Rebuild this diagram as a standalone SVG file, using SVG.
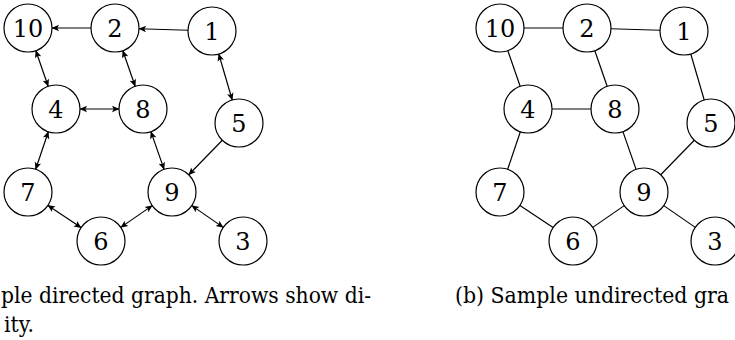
<svg xmlns="http://www.w3.org/2000/svg" width="735" height="340" viewBox="0 0 735 340">
<style>
.node circle{fill:#fff;stroke:#000;stroke-width:1.2}
.node text{font-family:'DejaVu Serif','Liberation Serif',serif;font-size:24px;text-anchor:middle;fill:#000}
.edge{stroke:#000;stroke-width:1.2;fill:none}
.one{marker-end:url(#ah)}
.two{marker-start:url(#ah);marker-end:url(#ah)}
.cap{font-family:'DejaVu Serif','Liberation Serif',serif;font-size:23px;fill:#000}
</style>
<defs>
<marker id="ah" viewBox="-8 -4 9 8" markerWidth="9" markerHeight="8" refX="0" refY="0" orient="auto-start-reverse" markerUnits="userSpaceOnUse">
<path d="M0.5,0 L-7,-3.3 L-5.3,0 L-7,3.3 Z" fill="#000"/>
</marker>
</defs>
<rect width="735" height="340" fill="#fff"/>

<g id="graph-a">
<g id="a-connectors">
<line class="edge one" x1="91" y1="28" x2="52" y2="28"/>
<line class="edge one" x1="188" y1="30.26" x2="139" y2="28.74"/>
<line class="edge two" x1="35.84" y1="50.68" x2="48.16" y2="86.32"/>
<line class="edge two" x1="122.84" y1="50.68" x2="135.16" y2="86.32"/>
<line class="edge two" x1="218.76" y1="54.03" x2="232.24" y2="99.97"/>
<line class="edge two" x1="80" y1="109" x2="119" y2="109"/>
<line class="edge two" x1="48.33" y1="131.74" x2="35.67" y2="169.26"/>
<line class="edge two" x1="150.92" y1="131.66" x2="164.08" y2="169.34"/>
<line class="edge one" x1="222.28" y1="140.22" x2="188.72" y2="174.78"/>
<line class="edge two" x1="47.93" y1="205.38" x2="81.07" y2="227.62"/>
<line class="edge two" x1="120.75" y1="227.37" x2="152.25" y2="205.63"/>
<line class="edge two" x1="191.75" y1="205.63" x2="223.25" y2="227.37"/>
</g>
<g id="a-n10" class="node"><circle cx="28" cy="28" r="24"/><text x="28" y="36.5">10</text></g>
<g id="a-n2" class="node"><circle cx="115" cy="28" r="24"/><text x="115" y="36.5">2</text></g>
<g id="a-n1" class="node"><circle cx="212" cy="31" r="24"/><text x="212" y="39.5">1</text></g>
<g id="a-n4" class="node"><circle cx="56" cy="109" r="24"/><text x="56" y="117.5">4</text></g>
<g id="a-n8" class="node"><circle cx="143" cy="109" r="24"/><text x="143" y="117.5">8</text></g>
<g id="a-n5" class="node"><circle cx="239" cy="123" r="24"/><text x="239" y="131.5">5</text></g>
<g id="a-n7" class="node"><circle cx="28" cy="192" r="24"/><text x="28" y="200.5">7</text></g>
<g id="a-n9" class="node"><circle cx="172" cy="192" r="24"/><text x="172" y="200.5">9</text></g>
<g id="a-n6" class="node"><circle cx="101" cy="241" r="24"/><text x="101" y="249.5">6</text></g>
<g id="a-n3" class="node"><circle cx="243" cy="241" r="24"/><text x="243" y="249.5">3</text></g>
</g>

<g id="graph-b" transform="translate(472,0)">
<g id="b-connectors">
<line class="edge" x1="91" y1="28" x2="52" y2="28"/>
<line class="edge" x1="188" y1="30.26" x2="139" y2="28.74"/>
<line class="edge" x1="35.84" y1="50.68" x2="48.16" y2="86.32"/>
<line class="edge" x1="122.84" y1="50.68" x2="135.16" y2="86.32"/>
<line class="edge" x1="218.76" y1="54.03" x2="232.24" y2="99.97"/>
<line class="edge" x1="80" y1="109" x2="119" y2="109"/>
<line class="edge" x1="48.33" y1="131.74" x2="35.67" y2="169.26"/>
<line class="edge" x1="150.92" y1="131.66" x2="164.08" y2="169.34"/>
<line class="edge" x1="222.28" y1="140.22" x2="188.72" y2="174.78"/>
<line class="edge" x1="47.93" y1="205.38" x2="81.07" y2="227.62"/>
<line class="edge" x1="120.75" y1="227.37" x2="152.25" y2="205.63"/>
<line class="edge" x1="191.75" y1="205.63" x2="223.25" y2="227.37"/>
</g>
<g id="b-n10" class="node"><circle cx="28" cy="28" r="24"/><text x="28" y="36.5">10</text></g>
<g id="b-n2" class="node"><circle cx="115" cy="28" r="24"/><text x="115" y="36.5">2</text></g>
<g id="b-n1" class="node"><circle cx="212" cy="31" r="24"/><text x="212" y="39.5">1</text></g>
<g id="b-n4" class="node"><circle cx="56" cy="109" r="24"/><text x="56" y="117.5">4</text></g>
<g id="b-n8" class="node"><circle cx="143" cy="109" r="24"/><text x="143" y="117.5">8</text></g>
<g id="b-n5" class="node"><circle cx="239" cy="123" r="24"/><text x="239" y="131.5">5</text></g>
<g id="b-n7" class="node"><circle cx="28" cy="192" r="24"/><text x="28" y="200.5">7</text></g>
<g id="b-n9" class="node"><circle cx="172" cy="192" r="24"/><text x="172" y="200.5">9</text></g>
<g id="b-n6" class="node"><circle cx="101" cy="241" r="24"/><text x="101" y="249.5">6</text></g>
<g id="b-n3" class="node"><circle cx="243" cy="241" r="24"/><text x="243" y="249.5">3</text></g>
</g>

<g id="captions">
<text class="cap" x="1" y="303" textLength="370" lengthAdjust="spacingAndGlyphs">ple directed graph. Arrows show di-</text>
<text class="cap" x="4" y="332" textLength="30" lengthAdjust="spacingAndGlyphs">ity.</text>
<text class="cap" x="455" y="303" textLength="274" lengthAdjust="spacingAndGlyphs">(b) Sample undirected gra</text>
</g>
</svg>
